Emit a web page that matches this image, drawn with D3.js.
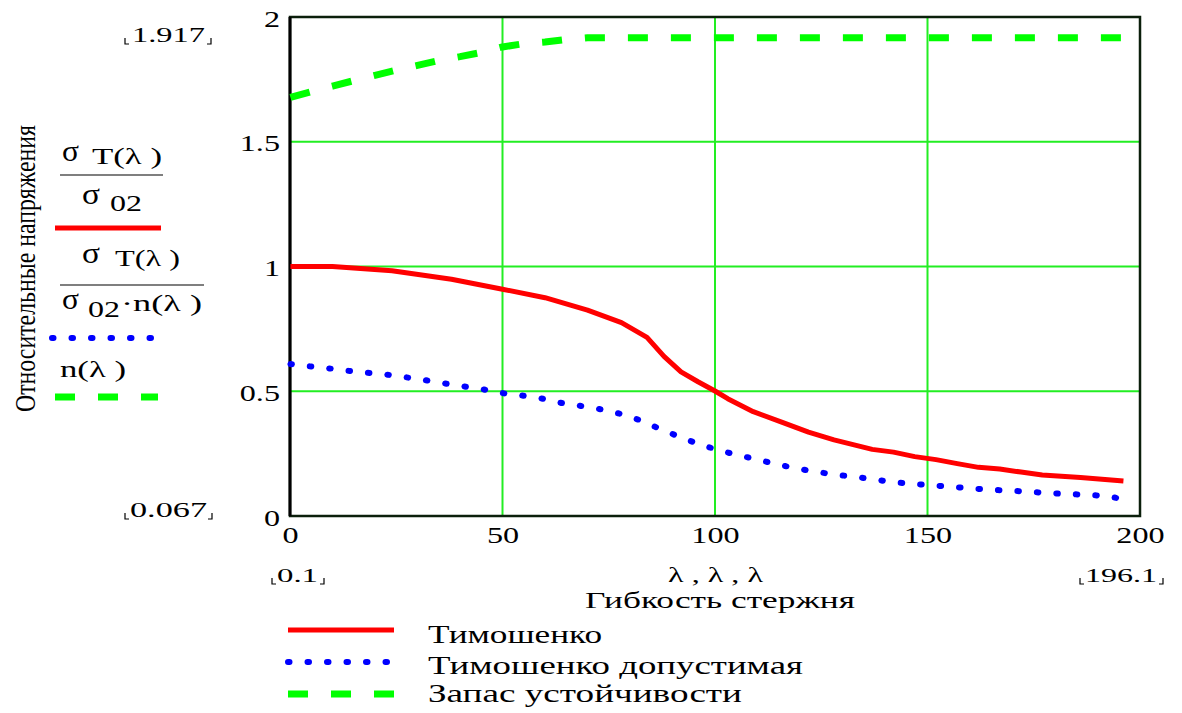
<!DOCTYPE html>
<html>
<head>
<meta charset="utf-8">
<script src="https://cdn.jsdelivr.net/npm/d3@7"></script>
<style>
	body { margin: 0; background: #fff; }
	text { font-family: "Liberation Serif", "DejaVu Serif", serif; fill: #000; }
</style>
</head>
<body>
<div id="chart"></div>
<script>
// Тимошенко: sigma_T(lambda)/sigma_02
var lambdaT = [0.1, 10, 24, 38, 50, 60, 70, 78, 84, 88, 92, 96, 100, 103, 109, 116, 122, 128, 137, 142, 147, 152, 157, 162, 167, 172, 177, 186, 196.1];
var timoshenko = [1.0, 1.0, 0.983, 0.949, 0.909, 0.875, 0.825, 0.775, 0.716, 0.64, 0.578, 0.538, 0.501, 0.47, 0.418, 0.374, 0.336, 0.305, 0.267, 0.256, 0.238, 0.226, 0.21, 0.195, 0.188, 0.176, 0.164, 0.154, 0.14];

// Тимошенко допустимая: sigma_T(lambda)/(sigma_02*n(lambda))
var lambdaD = [0.1, 4.5, 9, 13.6, 18.2, 22.7, 27.3, 31.9, 36.5, 41, 45.6, 50.2, 54.9, 59.5, 63.9, 68.5, 73.1, 77.6, 82.2, 86.8, 91.4, 95.9, 100.4, 105.1, 109.8, 114.4, 119, 123.5, 128.1, 132.5, 137.3, 141.8, 146.4, 151, 155.5, 160.2, 164.7, 169.3, 173.9, 178.4, 183, 187.5, 192.2, 196.1];
var dopustimaya = [0.609, 0.6, 0.592, 0.582, 0.574, 0.567, 0.556, 0.544, 0.531, 0.519, 0.507, 0.492, 0.482, 0.47, 0.453, 0.441, 0.428, 0.41, 0.385, 0.351, 0.319, 0.29, 0.266, 0.245, 0.227, 0.208, 0.191, 0.178, 0.166, 0.158, 0.147, 0.136, 0.129, 0.123, 0.117, 0.111, 0.105, 0.102, 0.097, 0.092, 0.088, 0.085, 0.08, 0.067];

// Запас устойчивости: n(lambda)
var lambdaN = [0.1, 5, 10, 15, 20, 25, 30, 35, 40, 45, 50, 55, 60, 65, 70, 196.1];
var zapas = [1.678, 1.701, 1.723, 1.745, 1.766, 1.787, 1.806, 1.826, 1.841, 1.858, 1.88, 1.893, 1.9, 1.91, 1.917, 1.917];

var xTicks = [0, 50, 100, 150, 200];
var yTicks = [0, 0.5, 1, 1.5, 2];
var legendNames = ["Тимошенко", "Тимошенко допустимая", "Запас устойчивости"];

var width = 1182, height = 713;
var plotLeft = 290, plotRight = 1140, plotTop = 17, plotBottom = 516;
var stretch = 1.4;

var colors = ["#ff0000", "#0000ff", "#00ff00"];
var dashes = [null, "1.5 18", "20 23"];
var widths = [5, 6, 7];
var caps = ["butt", "round", "butt"];

var svg = d3.select("#chart").append("svg")
	.attr("width", width)
	.attr("height", height);

var x = d3.scaleLinear().domain([0, 200]).range([plotLeft, plotRight]);
var y = d3.scaleLinear().domain([0, 2]).range([plotBottom, plotTop]);

// grid
svg.append("g").selectAll("line").data(xTicks).enter().append("line")
	.attr("x1", function(d) { return x(d); }).attr("x2", function(d) { return x(d); })
	.attr("y1", plotTop).attr("y2", plotBottom)
	.attr("stroke", "#22ee22").attr("stroke-width", 2);
svg.append("g").selectAll("line").data(yTicks).enter().append("line")
	.attr("y1", function(d) { return y(d); }).attr("y2", function(d) { return y(d); })
	.attr("x1", plotLeft).attr("x2", plotRight)
	.attr("stroke", "#22ee22").attr("stroke-width", 2);

// axes (labels only)
var xAxis = svg.append("g")
	.attr("transform", "translate(0," + plotBottom + ")")
	.call(d3.axisBottom(x).tickValues(xTicks).tickSize(0).tickPadding(11).tickFormat(d3.format("d")));
var yAxis = svg.append("g")
	.attr("transform", "translate(" + plotLeft + ",0)")
	.call(d3.axisLeft(y).tickValues(yTicks).tickSize(0).tickPadding(10).tickFormat(function(d) { return d; }));
[xAxis, yAxis].forEach(function(ax) {
	ax.select(".domain").remove();
	ax.selectAll("text")
		.attr("font-size", 23)
		.attr("fill", "#000")
		.attr("transform", "scale(" + stretch + ",1)");
});
yAxis.selectAll("text").attr("x", -10 / stretch).attr("dy", "0.4em");

// frame
svg.append("rect")
	.attr("x", plotLeft).attr("y", plotTop)
	.attr("width", plotRight - plotLeft).attr("height", plotBottom - plotTop)
	.attr("fill", "none").attr("stroke", "#0b1f0b").attr("stroke-width", 2.5);
svg.append("line")
	.attr("x1", plotLeft).attr("x2", plotLeft).attr("y1", plotTop).attr("y2", plotBottom)
	.attr("stroke", "#000").attr("stroke-width", 3);

// series
var series = [
	{ xs: lambdaT, ys: timoshenko },
	{ xs: lambdaD, ys: dopustimaya },
	{ xs: lambdaN, ys: zapas }
];
var line = d3.line()
	.x(function(d) { return x(d[0]); })
	.y(function(d) { return y(d[1]); });

var plot = svg.append("g");
series.forEach(function(s, i) {
	plot.append("path")
		.datum(d3.zip(s.xs, s.ys))
		.attr("d", line)
		.attr("fill", "none")
		.attr("stroke", colors[i])
		.attr("stroke-width", widths[i])
		.attr("stroke-linecap", caps[i])
		.attr("stroke-linejoin", "round")
		.attr("stroke-dasharray", dashes[i]);
});

// stretched text helper: left edge, baseline, string, font size, target width
function label(px, py, str, size, w) {
	var t = svg.append("text")
		.attr("x", px).attr("y", py)
		.attr("font-size", size)
		.text(str);
	if (w) t.attr("textLength", w).attr("lengthAdjust", "spacingAndGlyphs");
	return t;
}
// Mathcad range marks
function corners(x1, x2, by) {
	svg.append("path")
		.attr("d", "M" + x1 + "," + (by - 6) + "V" + by + "H" + (x1 + 4) +
			"M" + (x2 - 4) + "," + by + "H" + x2 + "V" + (by - 6))
		.attr("fill", "none").attr("stroke", "#000").attr("stroke-width", 1.2);
}

label(132, 42, "1.917", 21, 73);
corners(125, 211, 44);
label(130, 517, "0.067", 21, 77);
corners(125, 212, 519);
label(277, 582, "0.1", 19, 41);
corners(272, 324, 584);
label(668, 582, "λ , λ , λ", 21, 95);
label(1085, 582, "196.1", 19, 72);
corners(1080, 1163, 584);
label(585, 608, "Гибкость стержня", 24, 270);

// legend at bottom
legendNames.forEach(function(name, i) {
	var ly = [630, 662, 694][i];
	svg.append("line")
		.attr("x1", 288).attr("x2", 394)
		.attr("y1", ly).attr("y2", ly)
		.attr("stroke", colors[i])
		.attr("stroke-width", widths[i])
		.attr("stroke-linecap", caps[i])
		.attr("stroke-dasharray", dashes[i]);
	label(428, [643, 674, 702][i], name, 25, [174, 375, 314][i]);
});

// y axis title
svg.append("text")
	.attr("transform", "translate(35,412) rotate(-90)")
	.attr("font-size", 30)
	.attr("textLength", 287)
	.attr("lengthAdjust", "spacingAndGlyphs")
	.text("Относительные напряжения");

// trace expressions on the left
label(62, 161, "σ", 30, 17);
label(92, 164, "T(λ )", 24, 70);
svg.append("line").attr("x1", 60).attr("x2", 163).attr("y1", 175).attr("y2", 175).attr("stroke", "#000").attr("stroke-width", 1.2);
label(82, 204, "σ", 30, 18);
label(110, 211, "02", 24, 32);
svg.append("line").attr("x1", 55).attr("x2", 161).attr("y1", 228).attr("y2", 228)
	.attr("stroke", colors[0]).attr("stroke-width", widths[0]);

label(82, 263, "σ", 30, 18);
label(115, 266, "T(λ )", 24, 65);
svg.append("line").attr("x1", 60).attr("x2", 204).attr("y1", 285).attr("y2", 285).attr("stroke", "#000").attr("stroke-width", 1.2);
label(62, 309, "σ", 30, 17);
label(88, 317, "02", 24, 32);
label(121, 311, "·n(λ )", 24, 81);
svg.append("line").attr("x1", 52).attr("x2", 155).attr("y1", 338).attr("y2", 338)
	.attr("stroke", colors[1]).attr("stroke-width", widths[1])
	.attr("stroke-linecap", caps[1]).attr("stroke-dasharray", dashes[1]);

label(60, 377, "n(λ )", 24, 66);
svg.append("line").attr("x1", 55).attr("x2", 158).attr("y1", 397).attr("y2", 397)
	.attr("stroke", colors[2]).attr("stroke-width", widths[2])
	.attr("stroke-dasharray", dashes[2]);
</script>
</body>
</html>
